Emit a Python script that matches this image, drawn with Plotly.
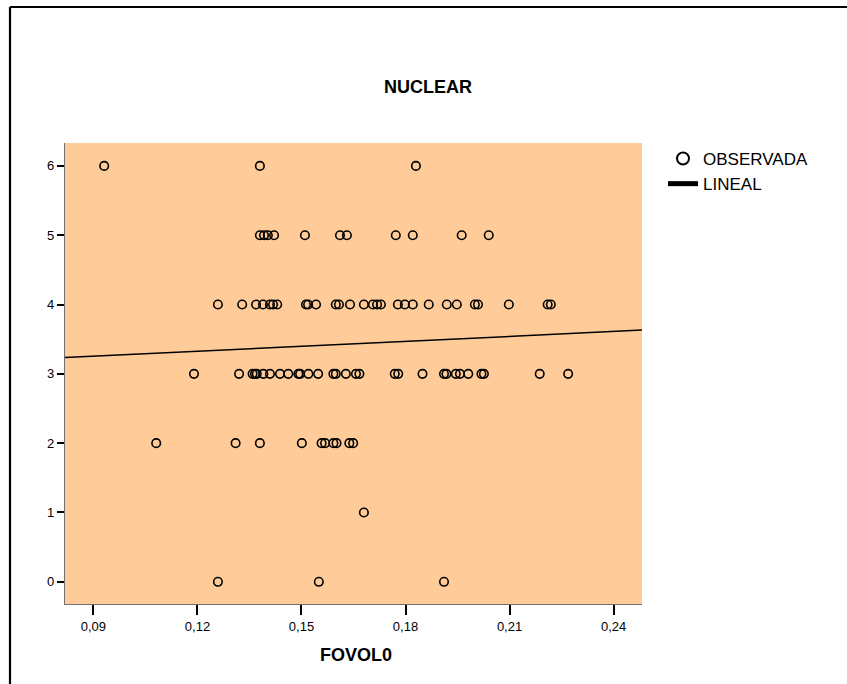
import numpy as np
import plotly.graph_objects as go

# ---- data ----
NUCLEAR_LEVELS = [6, 5, 4, 3, 2, 1, 0]
FOVOL0_BY_LEVEL = [
    [0.0931, 0.1380, 0.1830],
    [0.1380, 0.1392, 0.1403, 0.1421, 0.1510, 0.1611, 0.1631, 0.1772, 0.1821, 0.1962, 0.2040],
    [0.1259, 0.1329, 0.1369, 0.1389, 0.1409, 0.1418, 0.1430, 0.1513, 0.1519, 0.1542, 0.1599,
     0.1608, 0.1640, 0.1680, 0.1706, 0.1718, 0.1729, 0.1778, 0.1798, 0.1821, 0.1867, 0.1919,
     0.1948, 0.2000, 0.2009, 0.2098, 0.2210, 0.2219],
    [0.1190, 0.1320, 0.1359, 0.1366, 0.1371, 0.1390, 0.1409, 0.1438, 0.1462, 0.1491, 0.1496,
     0.1520, 0.1548, 0.1592, 0.1599, 0.1628, 0.1657, 0.1667, 0.1769, 0.1779, 0.1849, 0.1911,
     0.1918, 0.1945, 0.1957, 0.1981, 0.2019, 0.2026, 0.2187, 0.2269],
    [0.1081, 0.1310, 0.1380, 0.1501, 0.1558, 0.1568, 0.1592, 0.1601, 0.1638, 0.1649],
    [0.1680],
    [0.1259, 0.1550, 0.1911],
]
# linear fit (LINEAL) coefficients
FIT_INTERCEPT = 3.040
FIT_SLOPE = 2.380

X_TICKS = [0.09, 0.12, 0.15, 0.18, 0.21, 0.24]
Y_TICKS = [0, 1, 2, 3, 4, 5, 6]
X_RANGE = [0.0818, 0.2482]
Y_RANGE = [-0.32, 6.33]

x_obs = []
y_obs = []
for lvl, xs in zip(NUCLEAR_LEVELS, FOVOL0_BY_LEVEL):
    x_obs += xs
    y_obs += [lvl] * len(xs)

x_fit = np.array(X_RANGE)
y_fit = FIT_INTERCEPT + FIT_SLOPE * x_fit

FONT = "Liberation Sans, Arial, sans-serif"

fig = go.Figure()
fig.add_trace(go.Scatter(
    x=x_obs, y=y_obs, mode="markers", name="OBSERVADA",
    marker=dict(symbol="circle-open", size=8.5, color="black", line=dict(width=1.6, color="black")),
    legendgroup="a", cliponaxis=False,
))
fig.add_trace(go.Scatter(
    x=x_fit, y=y_fit, mode="lines", name="LINEAL",
    line=dict(color="black", width=1.5), legendgroup="b",
))

L, R, T, B = 65, 205, 143, 80
W, H = 847, 684
pw, ph = W - L - R, H - T - B

def px(xp):
    return (xp - L) / pw

def py(yp):
    return (H - B - yp) / ph

fig.update_layout(
    width=W, height=H,
    margin=dict(l=L, r=R, t=T, b=B, pad=0),
    paper_bgcolor="white",
    plot_bgcolor="#FFCC99",
    separators=",.",
    font=dict(family=FONT, size=13, color="black"),
    showlegend=True,
    legend=dict(
        x=px(663), y=py(141), xanchor="left", yanchor="top",
        font=dict(family=FONT, size=17, color="black"),
        bgcolor="rgba(0,0,0,0)", borderwidth=0,
        traceorder="grouped", tracegroupgap=0, itemsizing="constant",
    ),
    xaxis=dict(
        range=X_RANGE, tickvals=X_TICKS, tickformat=".2f",
        showgrid=False, zeroline=False,
        showline=True, linecolor="#707070", linewidth=1.2,
        ticks="outside", ticklen=10, tickcolor="black", tickwidth=1.5,
        tickfont=dict(family=FONT, size=13, color="black"),
    ),
    yaxis=dict(
        range=Y_RANGE, tickvals=Y_TICKS,
        showgrid=False, zeroline=False,
        showline=True, linecolor="#707070", linewidth=1.2,
        ticks="outside", ticklen=7, tickcolor="black", tickwidth=1.5,
        tickfont=dict(family=FONT, size=13, color="black"),
    ),
    annotations=[
        dict(text="<b>NUCLEAR</b>", x=px(428), y=py(87), xref="paper", yref="paper",
             showarrow=False, xanchor="center", yanchor="middle",
             font=dict(family=FONT, size=18, color="black")),
        dict(text="<b>FOVOL0</b>", x=px(356), y=py(655), xref="paper", yref="paper",
             showarrow=False, xanchor="center", yanchor="middle",
             font=dict(family=FONT, size=18, color="black")),
    ],
    shapes=[
        dict(type="line", xref="paper", yref="paper", x0=px(10), x1=px(W + 5), y0=py(7), y1=py(7),
             line=dict(color="black", width=2.2)),
        dict(type="line", xref="paper", yref="paper", x0=px(10), x1=px(10), y0=py(7), y1=py(H + 5),
             line=dict(color="black", width=2.2)),
    ],
)

fig.write_html("out.html")
